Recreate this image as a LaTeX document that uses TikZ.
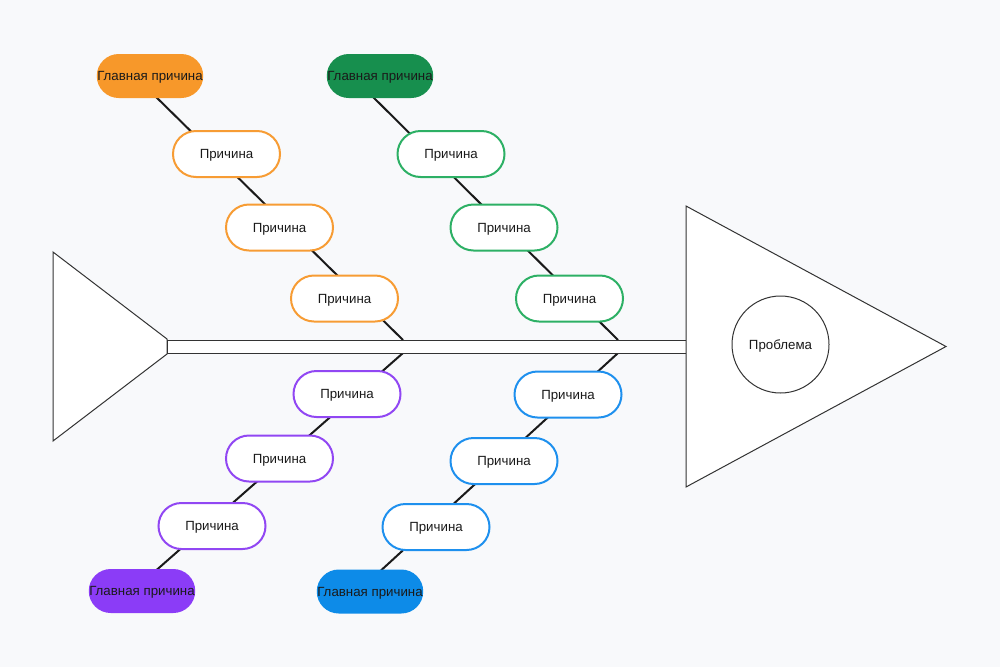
\documentclass[tikz,border=0pt]{standalone}
\usepackage{fontspec}
\setmainfont{Liberation Sans}
\usetikzlibrary{shapes.misc}
\pgfdeclarelayer{bg}
\pgfdeclarelayer{back}
\pgfsetlayers{back,bg,main}
\definecolor{bgc}{HTML}{F8F9FB}
\definecolor{ink}{HTML}{1A1A1A}
\definecolor{edge}{HTML}{333333}
\definecolor{orangeF}{HTML}{F7982A}
\definecolor{orangeB}{HTML}{F79C34}
\definecolor{greenF}{HTML}{178F4E}
\definecolor{greenB}{HTML}{2DB065}
\definecolor{purpleF}{HTML}{8B3CF7}
\definecolor{purpleB}{HTML}{9147F3}
\definecolor{blueF}{HTML}{0D8BE8}
\definecolor{blueB}{HTML}{1E90EE}
\begin{document}
\begin{tikzpicture}[x=1pt,y=-1pt,
  cause/.style={draw=#1,line width=2pt,fill=white,rounded rectangle,
    minimum width=107pt,minimum height=46pt,inner sep=0pt,text height=9.5pt,text depth=0pt,
    font=\fontsize{13.3}{15}\selectfont,text=ink},
  mainc/.style={fill=#1,rounded rectangle,
    minimum width=104pt,minimum height=44pt,inner sep=0pt,text height=9.5pt,text depth=0pt,
    font=\fontsize{13.3}{15}\selectfont,text=ink},
  bone/.style={draw=ink,line width=2pt},
  outline/.style={draw=edge,line width=1pt,fill=white}]
\begin{pgfonlayer}{back}
\fill[bgc] (0,0) rectangle (1000,667);
\end{pgfonlayer}
\useasboundingbox (0,0) rectangle (1000,667);

% fish tail and spine
\draw[outline] (53,252) -- (167,339) -- (167,354) -- (53,441) -- cycle;
\draw[outline] (167,340) rectangle (686,353);
% head
\draw[outline] (686,206) -- (946,346.5) -- (686,487) -- cycle;
\node[draw=edge,line width=1pt,circle,minimum size=97pt,inner sep=0pt,
  text height=9.5pt,text depth=0pt,
  font=\fontsize{13.3}{15}\selectfont,text=ink] (prob) at (780.5,344.5) {Проблема};

% joints on spine
\coordinate (jo) at (403,340);
\coordinate (jg) at (618,340);
\coordinate (jp) at (403,353);
\coordinate (jb) at (618,353);
% bone ends inside main-cause pills
\coordinate (eo) at (150,91);
\coordinate (eg) at (368,92);
\coordinate (ep) at (152,574);
\coordinate (eb) at (376,575);

% orange branch
\node[mainc=orangeF] (om) at (150,76) {Главная причина};
\node[cause=orangeB] (o1) at (226.5,154) {Причина};
\node[cause=orangeB] (o2) at (279.5,227.5) {Причина};
\node[cause=orangeB] (o3) at (344.5,298.5) {Причина};
% green branch
\node[mainc=greenF] (gm) at (380,76) {Главная причина};
\node[cause=greenB] (g1) at (451,154) {Причина};
\node[cause=greenB] (g2) at (504,227.5) {Причина};
\node[cause=greenB] (g3) at (569.5,298.5) {Причина};
% purple branch
\node[cause=purpleB] (p1) at (347,394) {Причина};
\node[cause=purpleB] (p2) at (279.5,458.5) {Причина};
\node[cause=purpleB] (p3) at (212,526) {Причина};
\node[mainc=purpleF] (pm) at (142,591) {Главная причина};
% blue branch
\node[cause=blueB] (b1) at (568,394.5) {Причина};
\node[cause=blueB] (b2) at (504,461) {Причина};
\node[cause=blueB] (b3) at (436,527) {Причина};
\node[mainc=blueF] (bm) at (370,591.5) {Главная причина};

\begin{pgfonlayer}{bg}
\draw[bone] (jo) -- (eo);
\draw[bone] (jg) -- (eg);
\draw[bone] (jp) -- (ep);
\draw[bone] (jb) -- (eb);
\end{pgfonlayer}
\end{tikzpicture}
\end{document}
